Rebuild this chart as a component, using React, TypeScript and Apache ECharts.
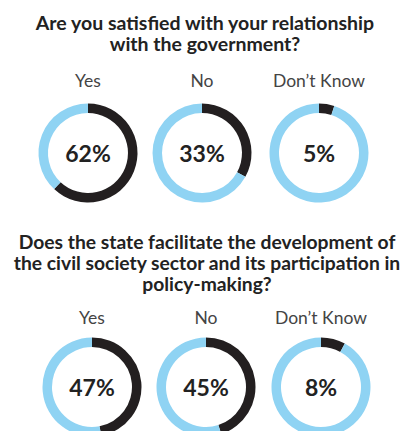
import React, { useEffect, useRef } from "react";
import * as echarts from "echarts";

const questions = [
  "Are you satisfied with your relationship\nwith the government?",
  "Does the state facilitate the development of\nthe civil society sector and its participation in\npolicy-making?",
];
const categories = ["Yes", "No", "Don\u2019t Know"];
const q1Values = [62, 33, 5];
const q2Values = [47, 45, 8];

const BLACK = "#231f20";
const BLUE = "#8fd3f3";
const FONT = "Lato";

export default function App() {
  const ref = useRef<HTMLDivElement>(null);
  useEffect(() => {
    document.body.style.margin = "0";
    const chart = echarts.init(ref.current!, null, { renderer: "svg" });
    const rows = [
      { values: q1Values, cx: [88, 202, 319], cy: 153, labelY: 80 },
      { values: q2Values, cx: [92, 206, 321], cy: 387, labelY: 317 },
    ];
    const series: any[] = [];
    const graphics: any[] = [];
    rows.forEach((row) => {
      row.values.forEach((v, i) => {
        series.push({
          type: "pie",
          center: [row.cx[i], row.cy],
          radius: [40, 49.5],
          startAngle: 90,
          clockwise: true,
          silent: true,
          emphasis: { disabled: true },
          labelLine: { show: false },
          data: [
            {
              value: v,
              itemStyle: { color: BLACK },
              label: {
                show: true,
                position: "center",
                formatter: "{c}%",
                fontFamily: FONT,
                fontWeight: "bold",
                fontSize: 23,
                color: "#222",
              },
            },
            { value: 100 - v, itemStyle: { color: BLUE }, label: { show: false } },
          ],
        });
        graphics.push({
          type: "text",
          x: row.cx[i],
          y: row.labelY,
          style: {
            text: categories[i],
            fontFamily: FONT,
            fontSize: 17.5,
            fill: "#444",
            align: "center",
            verticalAlign: "middle",
          },
        });
      });
    });
    graphics.push({
      type: "text",
      x: 205,
      y: 33,
      style: {
        text: questions[0],
        fontFamily: FONT,
        fontWeight: "bold",
        fontSize: 19.5,
        lineHeight: 21,
        fill: "#222",
        align: "center",
        verticalAlign: "middle",
      },
    });
    graphics.push({
      type: "text",
      x: 207,
      y: 262,
      style: {
        text: questions[1],
        fontFamily: FONT,
        fontWeight: "bold",
        fontSize: 19.3,
        lineHeight: 21,
        fill: "#222",
        align: "center",
        verticalAlign: "middle",
      },
    });
    chart.setOption({
      animation: false,
      backgroundColor: "#fff",
      series,
      graphic: graphics,
    });
    return () => chart.dispose();
  }, []);
  return <div ref={ref} style={{ width: 404, height: 431 }} />;
}
